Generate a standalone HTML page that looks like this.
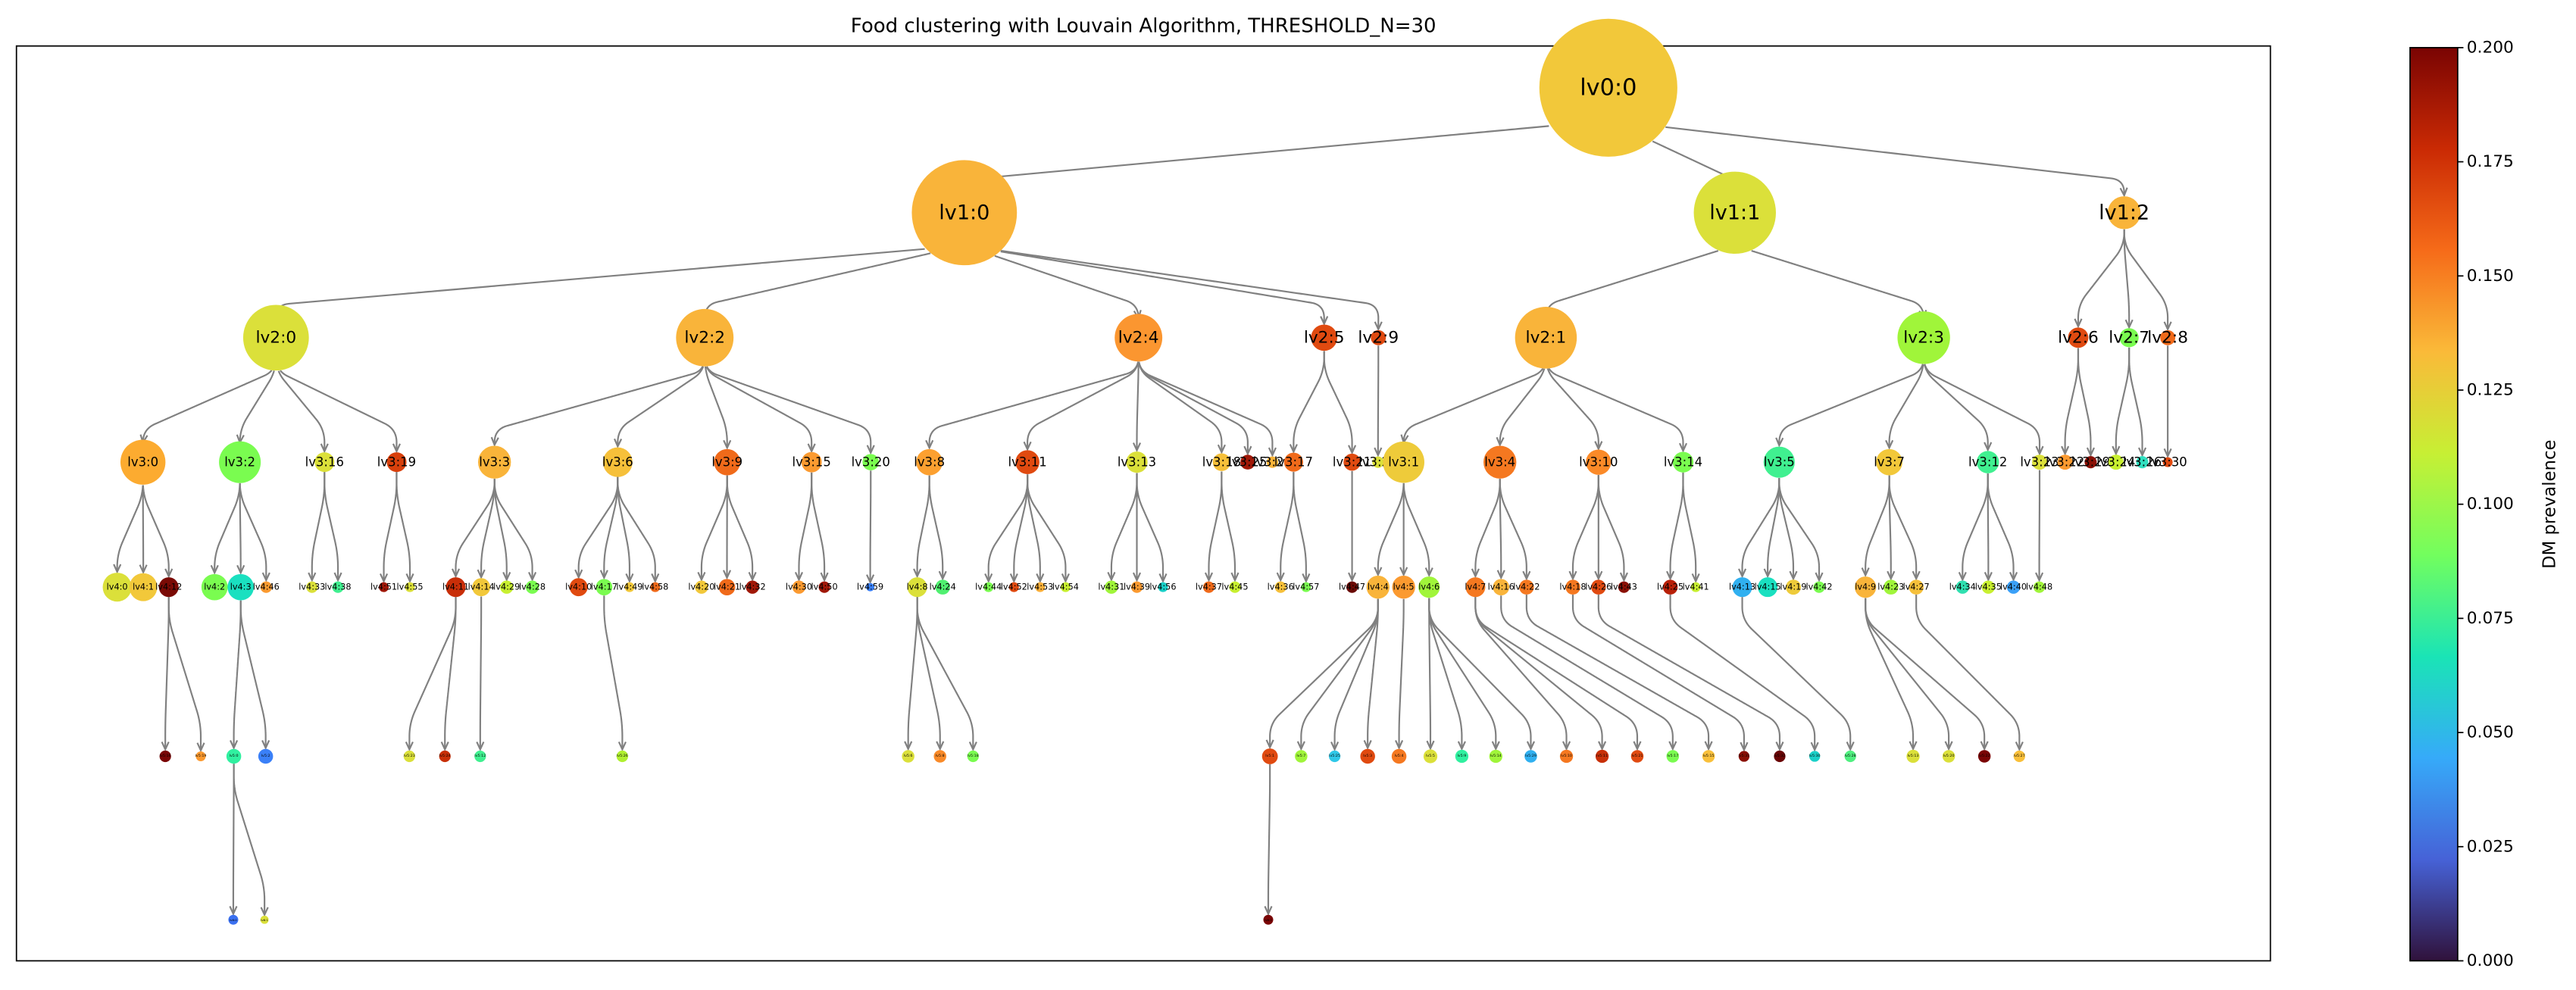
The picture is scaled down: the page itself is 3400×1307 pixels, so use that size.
<!DOCTYPE html>
<html><head><meta charset="utf-8"><style>
html,body{margin:0;padding:0;background:#fff;}
svg{display:block;}
text{font-family:"DejaVu Sans","Liberation Sans",sans-serif;fill:#000;}
.n text{text-anchor:middle;dominant-baseline:central;}
.t0{font-size:14px}.t1{font-size:12.5px}.t2{font-size:10px}.t3{font-size:7.6px}.t4{font-size:5.2px}.t5{font-size:2.2px}.t6{font-size:1.8px}
.tk{font-size:10px;dominant-baseline:central}
</style></head><body>
<svg id="s" width="3400" height="1307" viewBox="0 0 1568 602.77" xmlns="http://www.w3.org/2000/svg">
<defs><linearGradient id="tb" x1="0" y1="1" x2="0" y2="0">
<stop offset="0" stop-color="#30123b"/><stop offset="0.111" stop-color="#4662d7"/><stop offset="0.222" stop-color="#36aaf9"/><stop offset="0.333" stop-color="#1ae4b6"/><stop offset="0.444" stop-color="#72fe5e"/><stop offset="0.556" stop-color="#c7ef34"/><stop offset="0.667" stop-color="#faba39"/><stop offset="0.778" stop-color="#f66b19"/><stop offset="0.889" stop-color="#ca2a04"/><stop offset="1" stop-color="#7a0403"/>
</linearGradient></defs>
<text x="696" y="19.5" text-anchor="middle" style="font-size:12px">Food clustering with Louvain Algorithm, THRESHOLD_N=30</text>
<rect x="10" y="28" width="1372" height="557" fill="none" stroke="#000" stroke-width="0.8"/>
<g id="edges" fill="none" stroke="#808080" stroke-width="1"></g>
<g class="n">
<circle id="L0_0" cx="979" cy="53.4" r="42" fill="#f2c83a"/><text class="t0" x="979" y="53.4">lv0:0</text>
<circle id="L1_0" cx="587" cy="129.5" r="32" fill="#f9b43a"/><text class="t1" x="587" y="129.5">lv1:0</text>
<circle id="L1_1" cx="1056" cy="129.5" r="25" fill="#dbe03a"/><text class="t1" x="1056" y="129.5">lv1:1</text>
<circle id="L1_2" cx="1293" cy="129.5" r="10" fill="#f9b43a"/><text class="t1" x="1293" y="129.5">lv1:2</text>
<circle id="L2_0" cx="168" cy="205.6" r="20" fill="#dbe03a"/><text class="t2" x="168" y="205.6">lv2:0</text>
<circle id="L2_2" cx="429" cy="205.6" r="17.5" fill="#f9b43a"/><text class="t2" x="429" y="205.6">lv2:2</text>
<circle id="L2_4" cx="693" cy="205.6" r="14.5" fill="#fb9630"/><text class="t2" x="693" y="205.6">lv2:4</text>
<circle id="L2_5" cx="806" cy="205.6" r="8" fill="#e04a10"/><text class="t2" x="806" y="205.6">lv2:5</text>
<circle id="L2_9" cx="839" cy="205.6" r="4.6" fill="#e04a10"/><text class="t2" x="839" y="205.6">lv2:9</text>
<circle id="L2_1" cx="941" cy="205.6" r="18.8" fill="#f9b43a"/><text class="t2" x="941" y="205.6">lv2:1</text>
<circle id="L2_3" cx="1171" cy="205.6" r="16" fill="#a0f53a"/><text class="t2" x="1171" y="205.6">lv2:3</text>
<circle id="L2_6" cx="1265" cy="205.6" r="6.2" fill="#e04a10"/><text class="t2" x="1265" y="205.6">lv2:6</text>
<circle id="L2_7" cx="1296" cy="205.6" r="5.8" fill="#7afc50"/><text class="t2" x="1296" y="205.6">lv2:7</text>
<circle id="L2_8" cx="1319.5" cy="205.6" r="4.6" fill="#f06a1a"/><text class="t2" x="1319.5" y="205.6">lv2:8</text>

<circle id="L3_0" cx="87" cy="281.4" r="13.7" fill="#fcab30"/><text class="t3" x="87" y="281.4">lv3:0</text>
<circle id="L3_2" cx="146" cy="281.4" r="12.7" fill="#7afc50"/><text class="t3" x="146" y="281.4">lv3:2</text>
<circle id="L3_16" cx="197.5" cy="281.4" r="6" fill="#dbe03a"/><text class="t3" x="197.5" y="281.4">lv3:16</text>
<circle id="L3_19" cx="241.4" cy="281.4" r="6" fill="#d8400c"/><text class="t3" x="241.4" y="281.4">lv3:19</text>
<circle id="L3_3" cx="301" cy="281.4" r="10" fill="#f9b43a"/><text class="t3" x="301" y="281.4">lv3:3</text>
<circle id="L3_6" cx="376" cy="281.4" r="9" fill="#f6c03a"/><text class="t3" x="376" y="281.4">lv3:6</text>
<circle id="L3_9" cx="442.6" cy="281.4" r="8" fill="#f06a1a"/><text class="t3" x="442.6" y="281.4">lv3:9</text>
<circle id="L3_15" cx="494" cy="281.4" r="6.2" fill="#fb9a30"/><text class="t3" x="494" y="281.4">lv3:15</text>
<circle id="L3_20" cx="530" cy="281.4" r="5" fill="#7afc50"/><text class="t3" x="530" y="281.4">lv3:20</text>
<circle id="L3_8" cx="565.7" cy="281.4" r="8" fill="#fca030"/><text class="t3" x="565.7" y="281.4">lv3:8</text>
<circle id="L3_11" cx="625.4" cy="281.4" r="7.3" fill="#e04a10"/><text class="t3" x="625.4" y="281.4">lv3:11</text>
<circle id="L3_13" cx="692" cy="281.4" r="6.5" fill="#dbe03a"/><text class="t3" x="692" y="281.4">lv3:13</text>
<circle id="L3_18" cx="743.6" cy="281.4" r="5.4" fill="#f6c03a"/><text class="t3" x="743.6" y="281.4">lv3:18</text>
<circle id="L3_25" cx="759.5" cy="281.4" r="4.5" fill="#a01808"/><text class="t3" x="759.5" y="281.4">lv3:25</text>
<circle id="L3_28" cx="774.5" cy="281.4" r="3.5" fill="#f9b43a"/><text class="t3" x="774.5" y="281.4">lv3:28</text>
<circle id="L3_17" cx="787.4" cy="281.4" r="5.8" fill="#f06a1a"/><text class="t3" x="787.4" y="281.4">lv3:17</text>
<circle id="L3_21" cx="823" cy="281.4" r="5.2" fill="#e04a10"/><text class="t3" x="823" y="281.4">lv3:21</text>
<circle id="L3_27" cx="838.8" cy="281.4" r="3.5" fill="#dbe03a"/><text class="t3" x="838.8" y="281.4">lv3:27</text>
<circle id="L3_1" cx="854.4" cy="281.4" r="12.6" fill="#eecb3a"/><text class="t3" x="854.4" y="281.4">lv3:1</text>
<circle id="L3_4" cx="913" cy="281.4" r="10" fill="#f57820"/><text class="t3" x="913" y="281.4">lv3:4</text>
<circle id="L3_10" cx="973" cy="281.4" r="7.7" fill="#fb8a28"/><text class="t3" x="973" y="281.4">lv3:10</text>
<circle id="L3_14" cx="1024.5" cy="281.4" r="6.3" fill="#7afc50"/><text class="t3" x="1024.5" y="281.4">lv3:14</text>
<circle id="L3_5" cx="1083" cy="281.4" r="9.5" fill="#40f090"/><text class="t3" x="1083" y="281.4">lv3:5</text>
<circle id="L3_7" cx="1150" cy="281.4" r="8" fill="#f2c83a"/><text class="t3" x="1150" y="281.4">lv3:7</text>
<circle id="L3_12" cx="1210" cy="281.4" r="6.8" fill="#40f090"/><text class="t3" x="1210" y="281.4">lv3:12</text>
<circle id="L3_23" cx="1241.5" cy="281.4" r="4.6" fill="#dbe03a"/><text class="t3" x="1241.5" y="281.4">lv3:23</text>
<circle id="L3_22" cx="1257" cy="281.4" r="4.6" fill="#fb9a30"/><text class="t3" x="1257" y="281.4">lv3:22</text>
<circle id="L3_29" cx="1272.6" cy="281.4" r="3.7" fill="#8a1005"/><text class="t3" x="1272.6" y="281.4">lv3:29</text>
<circle id="L3_24" cx="1288" cy="281.4" r="4.6" fill="#c8f030"/><text class="t3" x="1288" y="281.4">lv3:24</text>
<circle id="L3_26" cx="1304" cy="281.4" r="3.7" fill="#30e0c0"/><text class="t3" x="1304" y="281.4">lv3:26</text>
<circle id="L3_30" cx="1319.5" cy="281.4" r="3" fill="#e04a10"/><text class="t3" x="1319.5" y="281.4">lv3:30</text>

<circle id="L4_0" cx="71.3" cy="357.5" r="8.8" fill="#dbe03a"/><text class="t4" x="71.3" y="357.5">lv4:0</text>
<circle id="L4_1" cx="87.2" cy="357.5" r="8.5" fill="#f2c83a"/><text class="t4" x="87.2" y="357.5">lv4:1</text>
<circle id="L4_12" cx="102.7" cy="357.5" r="6" fill="#7a0a05"/><text class="t4" x="102.7" y="357.5">lv4:12</text>
<circle id="L4_2" cx="130.6" cy="357.5" r="8" fill="#7afc50"/><text class="t4" x="130.6" y="357.5">lv4:2</text>
<circle id="L4_3" cx="146.5" cy="357.5" r="8" fill="#1ae0c0"/><text class="t4" x="146.5" y="357.5">lv4:3</text>
<circle id="L4_46" cx="162" cy="357.5" r="3.5" fill="#fb9a30"/><text class="t4" x="162" y="357.5">lv4:46</text>
<circle id="L4_33" cx="189.9" cy="357.5" r="3.5" fill="#dbe03a"/><text class="t4" x="189.9" y="357.5">lv4:33</text>
<circle id="L4_38" cx="205.7" cy="357.5" r="3.5" fill="#40f090"/><text class="t4" x="205.7" y="357.5">lv4:38</text>
<circle id="L4_51" cx="233.6" cy="357.5" r="3" fill="#a01808"/><text class="t4" x="233.6" y="357.5">lv4:51</text>
<circle id="L4_55" cx="249.5" cy="357.5" r="3" fill="#dbe03a"/><text class="t4" x="249.5" y="357.5">lv4:55</text>
<circle id="L4_11" cx="277.4" cy="357.5" r="6" fill="#c82e08"/><text class="t4" x="277.4" y="357.5">lv4:11</text>
<circle id="L4_14" cx="292.9" cy="357.5" r="5.5" fill="#f2c83a"/><text class="t4" x="292.9" y="357.5">lv4:14</text>
<circle id="L4_29" cx="308.4" cy="357.5" r="4" fill="#c8f030"/><text class="t4" x="308.4" y="357.5">lv4:29</text>
<circle id="L4_28" cx="324" cy="357.5" r="4" fill="#7afc50"/><text class="t4" x="324" y="357.5">lv4:28</text>
<circle id="L4_10" cx="352.2" cy="357.5" r="5.5" fill="#e04a10"/><text class="t4" x="352.2" y="357.5">lv4:10</text>
<circle id="L4_17" cx="367.7" cy="357.5" r="5" fill="#7afc50"/><text class="t4" x="367.7" y="357.5">lv4:17</text>
<circle id="L4_49" cx="383.2" cy="357.5" r="3" fill="#f2c83a"/><text class="t4" x="383.2" y="357.5">lv4:49</text>
<circle id="L4_58" cx="398.8" cy="357.5" r="3" fill="#f06a1a"/><text class="t4" x="398.8" y="357.5">lv4:58</text>
<circle id="L4_20" cx="427" cy="357.5" r="4" fill="#f2c83a"/><text class="t4" x="427" y="357.5">lv4:20</text>
<circle id="L4_21" cx="442.5" cy="357.5" r="5" fill="#f06a1a"/><text class="t4" x="442.5" y="357.5">lv4:21</text>
<circle id="L4_32" cx="458" cy="357.5" r="4" fill="#a01808"/><text class="t4" x="458" y="357.5">lv4:32</text>
<circle id="L4_30" cx="486.3" cy="357.5" r="4" fill="#fb9a30"/><text class="t4" x="486.3" y="357.5">lv4:30</text>
<circle id="L4_50" cx="501.8" cy="357.5" r="3.5" fill="#a01808"/><text class="t4" x="501.8" y="357.5">lv4:50</text>
<circle id="L4_59" cx="529.7" cy="357.5" r="2.5" fill="#3a80f8"/><text class="t4" x="529.7" y="357.5">lv4:59</text>
<circle id="L4_8" cx="558.3" cy="357.5" r="6" fill="#dbe03a"/><text class="t4" x="558.3" y="357.5">lv4:8</text>
<circle id="L4_24" cx="573.8" cy="357.5" r="4.5" fill="#50f070"/><text class="t4" x="573.8" y="357.5">lv4:24</text>
<circle id="L4_44" cx="601.7" cy="357.5" r="3" fill="#7afc50"/><text class="t4" x="601.7" y="357.5">lv4:44</text>
<circle id="L4_52" cx="617.2" cy="357.5" r="3" fill="#e04a10"/><text class="t4" x="617.2" y="357.5">lv4:52</text>
<circle id="L4_53" cx="633.1" cy="357.5" r="3" fill="#fbb03a"/><text class="t4" x="633.1" y="357.5">lv4:53</text>
<circle id="L4_54" cx="648.6" cy="357.5" r="3" fill="#c8f030"/><text class="t4" x="648.6" y="357.5">lv4:54</text>
<circle id="L4_31" cx="676.5" cy="357.5" r="4" fill="#a0f53a"/><text class="t4" x="676.5" y="357.5">lv4:31</text>
<circle id="L4_39" cx="692" cy="357.5" r="3.5" fill="#fb9a30"/><text class="t4" x="692" y="357.5">lv4:39</text>
<circle id="L4_56" cx="707.9" cy="357.5" r="3" fill="#1ad0c8"/><text class="t4" x="707.9" y="357.5">lv4:56</text>
<circle id="L4_37" cx="735.8" cy="357.5" r="3.5" fill="#f06a1a"/><text class="t4" x="735.8" y="357.5">lv4:37</text>
<circle id="L4_45" cx="751.7" cy="357.5" r="3.5" fill="#c8f030"/><text class="t4" x="751.7" y="357.5">lv4:45</text>
<circle id="L4_36" cx="779.5" cy="357.5" r="3.5" fill="#f6c03a"/><text class="t4" x="779.5" y="357.5">lv4:36</text>
<circle id="L4_57" cx="795" cy="357.5" r="3" fill="#7afc50"/><text class="t4" x="795" y="357.5">lv4:57</text>
<circle id="L4_47" cx="823" cy="357.5" r="3.5" fill="#6a0a05"/><text class="t4" x="823" y="357.5">lv4:47</text>
<circle id="L4_4" cx="838.8" cy="357.5" r="7" fill="#f9b43a"/><text class="t4" x="838.8" y="357.5">lv4:4</text>
<circle id="L4_5" cx="854.4" cy="357.5" r="7" fill="#fb9a30"/><text class="t4" x="854.4" y="357.5">lv4:5</text>
<circle id="L4_6" cx="869.9" cy="357.5" r="6.5" fill="#a0f53a"/><text class="t4" x="869.9" y="357.5">lv4:6</text>
<circle id="L4_7" cx="898.1" cy="357.5" r="6" fill="#f57820"/><text class="t4" x="898.1" y="357.5">lv4:7</text>
<circle id="L4_16" cx="913.7" cy="357.5" r="5" fill="#f9b43a"/><text class="t4" x="913.7" y="357.5">lv4:16</text>
<circle id="L4_22" cx="929.2" cy="357.5" r="4.5" fill="#f57820"/><text class="t4" x="929.2" y="357.5">lv4:22</text>
<circle id="L4_18" cx="957.4" cy="357.5" r="4.5" fill="#f57820"/><text class="t4" x="957.4" y="357.5">lv4:18</text>
<circle id="L4_26" cx="973" cy="357.5" r="4.5" fill="#e04a10"/><text class="t4" x="973" y="357.5">lv4:26</text>
<circle id="L4_43" cx="988.5" cy="357.5" r="3.5" fill="#8a1005"/><text class="t4" x="988.5" y="357.5">lv4:43</text>
<circle id="L4_25" cx="1016.7" cy="357.5" r="4.5" fill="#b82008"/><text class="t4" x="1016.7" y="357.5">lv4:25</text>
<circle id="L4_41" cx="1032.2" cy="357.5" r="3" fill="#c8f030"/><text class="t4" x="1032.2" y="357.5">lv4:41</text>
<circle id="L4_13" cx="1060.5" cy="357.5" r="6" fill="#30b0f0"/><text class="t4" x="1060.5" y="357.5">lv4:13</text>
<circle id="L4_15" cx="1076" cy="357.5" r="6" fill="#1ae0c0"/><text class="t4" x="1076" y="357.5">lv4:15</text>
<circle id="L4_19" cx="1091.6" cy="357.5" r="4.6" fill="#eecb3a"/><text class="t4" x="1091.6" y="357.5">lv4:19</text>
<circle id="L4_42" cx="1107.3" cy="357.5" r="3.5" fill="#7afc50"/><text class="t4" x="1107.3" y="357.5">lv4:42</text>
<circle id="L4_9" cx="1135.5" cy="357.5" r="6.5" fill="#f9b43a"/><text class="t4" x="1135.5" y="357.5">lv4:9</text>
<circle id="L4_23" cx="1151" cy="357.5" r="4.5" fill="#a0f53a"/><text class="t4" x="1151" y="357.5">lv4:23</text>
<circle id="L4_27" cx="1166.4" cy="357.5" r="4.5" fill="#f6c03a"/><text class="t4" x="1166.4" y="357.5">lv4:27</text>
<circle id="L4_34" cx="1194.6" cy="357.5" r="4" fill="#30e0b0"/><text class="t4" x="1194.6" y="357.5">lv4:34</text>
<circle id="L4_35" cx="1210.3" cy="357.5" r="4" fill="#c8f030"/><text class="t4" x="1210.3" y="357.5">lv4:35</text>
<circle id="L4_40" cx="1225.6" cy="357.5" r="4" fill="#3aa0f8"/><text class="t4" x="1225.6" y="357.5">lv4:40</text>
<circle id="L4_48" cx="1241.3" cy="357.5" r="3.5" fill="#a0f53a"/><text class="t4" x="1241.3" y="357.5">lv4:48</text>

<circle id="L5_16" cx="100.6" cy="460.5" r="3.5" fill="#7a0505"/><text class="t5" x="100.6" y="460.5">lv5:16</text>
<circle id="L5_19" cx="122.2" cy="460.5" r="3" fill="#fb9a30"/><text class="t5" x="122.2" y="460.5">lv5:19</text>
<circle id="L5_0" cx="142.3" cy="460.5" r="4.5" fill="#30f0a0"/><text class="t5" x="142.3" y="460.5">lv5:0</text>
<circle id="L5_2" cx="161.7" cy="460.5" r="4.5" fill="#3a80f8"/><text class="t5" x="161.7" y="460.5">lv5:2</text>
<circle id="L5_23" cx="249.2" cy="460.5" r="3.5" fill="#dbe03a"/><text class="t5" x="249.2" y="460.5">lv5:23</text>
<circle id="L5_24" cx="270.8" cy="460.5" r="3.5" fill="#c83008"/><text class="t5" x="270.8" y="460.5">lv5:24</text>
<circle id="L5_12" cx="292.3" cy="460.5" r="3.5" fill="#40f090"/><text class="t5" x="292.3" y="460.5">lv5:12</text>
<circle id="L5_26" cx="378.8" cy="460.5" r="3.5" fill="#b0f030"/><text class="t5" x="378.8" y="460.5">lv5:26</text>
<circle id="L5_6" cx="552.8" cy="460.5" r="3.8" fill="#dbe03a"/><text class="t5" x="552.8" y="460.5">lv5:6</text>
<circle id="L5_8" cx="572.2" cy="460.5" r="3.8" fill="#f98a28"/><text class="t5" x="572.2" y="460.5">lv5:8</text>
<circle id="L5_18" cx="592.3" cy="460.5" r="3.5" fill="#7afc50"/><text class="t5" x="592.3" y="460.5">lv5:18</text>
<circle id="L5_1" cx="773" cy="460.5" r="4.8" fill="#e04a10"/><text class="t5" x="773" y="460.5">lv5:1</text>
<circle id="L5_7" cx="792" cy="460.5" r="3.8" fill="#a0f53a"/><text class="t5" x="792" y="460.5">lv5:7</text>
<circle id="L5_25" cx="812.4" cy="460.5" r="3.5" fill="#30c8e8"/><text class="t5" x="812.4" y="460.5">lv5:25</text>
<circle id="L5_3" cx="832.5" cy="460.5" r="4.5" fill="#e04a10"/><text class="t5" x="832.5" y="460.5">lv5:3</text>
<circle id="L5_4" cx="851.6" cy="460.5" r="4.5" fill="#f57820"/><text class="t5" x="851.6" y="460.5">lv5:4</text>
<circle id="L5_5" cx="870.7" cy="460.5" r="4.2" fill="#dbe03a"/><text class="t5" x="870.7" y="460.5">lv5:5</text>
<circle id="L5_9" cx="889.8" cy="460.5" r="4" fill="#30f0a0"/><text class="t5" x="889.8" y="460.5">lv5:9</text>
<circle id="L5_14" cx="910.5" cy="460.5" r="4" fill="#a0f53a"/><text class="t5" x="910.5" y="460.5">lv5:14</text>
<circle id="L5_29" cx="931.8" cy="460.5" r="3.8" fill="#30b0f0"/><text class="t5" x="931.8" y="460.5">lv5:29</text>
<circle id="L5_10" cx="953.5" cy="460.5" r="4" fill="#f57820"/><text class="t5" x="953.5" y="460.5">lv5:10</text>
<circle id="L5_11" cx="975.2" cy="460.5" r="4" fill="#c83008"/><text class="t5" x="975.2" y="460.5">lv5:11</text>
<circle id="L5_21" cx="996.6" cy="460.5" r="3.8" fill="#e04a10"/><text class="t5" x="996.6" y="460.5">lv5:21</text>
<circle id="L5_17" cx="1018.2" cy="460.5" r="3.8" fill="#7afc50"/><text class="t5" x="1018.2" y="460.5">lv5:17</text>
<circle id="L5_15" cx="1040" cy="460.5" r="3.8" fill="#f9c03a"/><text class="t5" x="1040" y="460.5">lv5:15</text>
<circle id="L5_31" cx="1061.6" cy="460.5" r="3.3" fill="#8a1005"/><text class="t5" x="1061.6" y="460.5">lv5:31</text>
<circle id="L5_32" cx="1083.3" cy="460.5" r="3.5" fill="#6a0505"/><text class="t5" x="1083.3" y="460.5">lv5:32</text>
<circle id="L5_30" cx="1104.6" cy="460.5" r="3.3" fill="#1ad0c8"/><text class="t5" x="1104.6" y="460.5">lv5:30</text>
<circle id="L5_28" cx="1126.3" cy="460.5" r="3.5" fill="#50f080"/><text class="t5" x="1126.3" y="460.5">lv5:28</text>
<circle id="L5_13" cx="1164.5" cy="460.5" r="4" fill="#dbe03a"/><text class="t5" x="1164.5" y="460.5">lv5:13</text>
<circle id="L5_20" cx="1186.2" cy="460.5" r="3.8" fill="#dbe03a"/><text class="t5" x="1186.2" y="460.5">lv5:20</text>
<circle id="L5_22" cx="1207.9" cy="460.5" r="3.8" fill="#7a0505"/><text class="t5" x="1207.9" y="460.5">lv5:22</text>
<circle id="L5_27" cx="1229.2" cy="460.5" r="3.5" fill="#f9c03a"/><text class="t5" x="1229.2" y="460.5">lv5:27</text>

<circle id="L6_0" cx="142" cy="560" r="3" fill="#3a70f0"/><text class="t6" x="142" y="560">lv6:0</text>
<circle id="L6_1" cx="161" cy="560" r="2.5" fill="#dbe03a"/><text class="t6" x="161" y="560">lv6:1</text>
<circle id="L6_2" cx="772" cy="560" r="3" fill="#7a0505"/><text class="t6" x="772" y="560">lv6:2</text>
</g>

<rect x="1467" y="29" width="29" height="556" fill="url(#tb)" stroke="#000" stroke-width="0.8"/>
<g stroke="#000" stroke-width="0.8">
<line x1="1496" y1="585" x2="1499.5" y2="585"/><line x1="1496" y1="515.5" x2="1499.5" y2="515.5"/><line x1="1496" y1="446" x2="1499.5" y2="446"/><line x1="1496" y1="376.5" x2="1499.5" y2="376.5"/><line x1="1496" y1="307" x2="1499.5" y2="307"/><line x1="1496" y1="237.5" x2="1499.5" y2="237.5"/><line x1="1496" y1="168" x2="1499.5" y2="168"/><line x1="1496" y1="98.5" x2="1499.5" y2="98.5"/><line x1="1496" y1="29" x2="1499.5" y2="29"/>
</g>
<g class="tk">
<text class="tk" x="1501.5" y="585">0.000</text><text class="tk" x="1501.5" y="515.5">0.025</text><text class="tk" x="1501.5" y="446">0.050</text><text class="tk" x="1501.5" y="376.5">0.075</text><text class="tk" x="1501.5" y="307">0.100</text><text class="tk" x="1501.5" y="237.5">0.125</text><text class="tk" x="1501.5" y="168">0.150</text><text class="tk" x="1501.5" y="98.5">0.175</text><text class="tk" x="1501.5" y="29">0.200</text>
</g>
<text x="1552" y="307" transform="rotate(-90 1552 307)" text-anchor="middle" dominant-baseline="central" style="font-size:10.5px">DM prevalence</text>
</svg>
<script>
(function(){
var E="0_0>1_0 0_0>1_1 0_0>1_2 1_0>2_0 1_0>2_2 1_0>2_4 1_0>2_5 1_0>2_9 1_1>2_1 1_1>2_3 1_2>2_6 1_2>2_7 1_2>2_8 2_0>3_0 2_0>3_2 2_0>3_16 2_0>3_19 2_2>3_3 2_2>3_6 2_2>3_9 2_2>3_15 2_2>3_20 2_4>3_8 2_4>3_11 2_4>3_13 2_4>3_18 2_4>3_25 2_4>3_28 2_5>3_17 2_5>3_21 2_9>3_27 2_1>3_1 2_1>3_4 2_1>3_10 2_1>3_14 2_3>3_5 2_3>3_7 2_3>3_12 2_3>3_23 2_6>3_22 2_6>3_29 2_7>3_24 2_7>3_26 2_8>3_30 3_0>4_0 3_0>4_1 3_0>4_12 3_2>4_2 3_2>4_3 3_2>4_46 3_16>4_33 3_16>4_38 3_19>4_51 3_19>4_55 3_3>4_11 3_3>4_14 3_3>4_29 3_3>4_28 3_6>4_10 3_6>4_17 3_6>4_49 3_6>4_58 3_9>4_20 3_9>4_21 3_9>4_32 3_15>4_30 3_15>4_50 3_20>4_59 3_8>4_8 3_8>4_24 3_11>4_44 3_11>4_52 3_11>4_53 3_11>4_54 3_13>4_31 3_13>4_39 3_13>4_56 3_18>4_37 3_18>4_45 3_17>4_36 3_17>4_57 3_21>4_47 3_1>4_4 3_1>4_5 3_1>4_6 3_4>4_7 3_4>4_16 3_4>4_22 3_10>4_18 3_10>4_26 3_10>4_43 3_14>4_25 3_14>4_41 3_5>4_13 3_5>4_15 3_5>4_19 3_5>4_42 3_7>4_9 3_7>4_23 3_7>4_27 3_12>4_34 3_12>4_35 3_12>4_40 3_23>4_48 4_12>5_16 4_12>5_19 4_3>5_0 4_3>5_2 4_11>5_23 4_11>5_24 4_14>5_12 4_17>5_26 4_8>5_6 4_8>5_8 4_8>5_18 4_4>5_1 4_4>5_7 4_4>5_25 4_4>5_3 4_5>5_4 4_6>5_5 4_6>5_9 4_6>5_14 4_6>5_29 4_7>5_10 4_7>5_11 4_7>5_21 4_16>5_17 4_22>5_15 4_18>5_31 4_26>5_32 4_25>5_30 4_13>5_28 4_9>5_13 4_9>5_20 4_9>5_22 4_27>5_27 5_1>6_2 5_0>6_0 5_0>6_1".split(' ');
var NS='http://www.w3.org/2000/svg',g=document.getElementById('edges');
function nd(id){var c=document.getElementById('L'+id);return {x:+c.getAttribute('cx'),y:+c.getAttribute('cy'),r:+c.getAttribute('r')};}
function L(p,q,u){return [p[0]+(q[0]-p[0])*u,p[1]+(q[1]-p[1])*u];}
function D(p,q){return Math.hypot(p[0]-q[0],p[1]-q[1]);}
function Q(a,b,c,u){var v=1-u;return [v*v*a[0]+2*v*u*b[0]+u*u*c[0],v*v*a[1]+2*v*u*b[1]+u*u*c[1]];}
E.forEach(function(e){
 var ab=e.split('>'),s=nd(ab[0]),t=nd(ab[1]);
 var P0=[s.x,s.y],P1=[s.x,s.y+20],P2=[t.x,t.y-20],P3=[t.x,t.y];
 var l01=D(P0,P1),l12=D(P1,P2),l23=D(P2,P3);
 var d1=Math.min(8,l01/2,l12/2),d2=Math.min(8,l12/2,l23/2);
 var A=L(P1,P0,d1/l01),B=L(P1,P2,d1/l12),C=L(P2,P1,d2/l12),Dd=L(P2,P3,d2/l23);
 var pts=[],N=40,i;
 for(i=0;i<=N;i++)pts.push(L(P0,A,i/N));
 for(i=1;i<=N;i++)pts.push(Q(A,P1,B,i/N));
 for(i=1;i<=200;i++)pts.push(L(B,C,i/200));
 for(i=1;i<=N;i++)pts.push(Q(C,P2,Dd,i/N));
 for(i=1;i<=N;i++)pts.push(L(Dd,P3,i/N));
 var a=0,b=pts.length-1,sh=Math.min(t.r+0.4,12);
 while(a<b&&D(pts[a],P0)<s.r)a++;
 while(b>a&&D(pts[b],P3)<sh)b--;
 var seg=pts.slice(a,b+1);if(seg.length<2)return;
 var d='M'+seg.map(function(p){return p[0].toFixed(2)+','+p[1].toFixed(2);}).join('L');
 var p=document.createElementNS(NS,'path');p.setAttribute('d',d);g.appendChild(p);
 var tip=seg[seg.length-1],k=seg.length-1;
 while(k>0&&D(seg[k],tip)<4)k--;
 var bk=seg[k],dx=tip[0]-bk[0],dy=tip[1]-bk[1],ln=Math.hypot(dx,dy)||1;dx/=ln;dy/=ln;
 var hl=4.6,hw=2.1;
 var l1=[tip[0]-dx*hl-dy*hw,tip[1]-dy*hl+dx*hw],r1=[tip[0]-dx*hl+dy*hw,tip[1]-dy*hl-dx*hw];
 var h=document.createElementNS(NS,'path');
 h.setAttribute('d','M'+l1[0].toFixed(2)+','+l1[1].toFixed(2)+'L'+tip[0].toFixed(2)+','+tip[1].toFixed(2)+'L'+r1[0].toFixed(2)+','+r1[1].toFixed(2));
 g.appendChild(h);
});
})();
</script>
</body></html>
